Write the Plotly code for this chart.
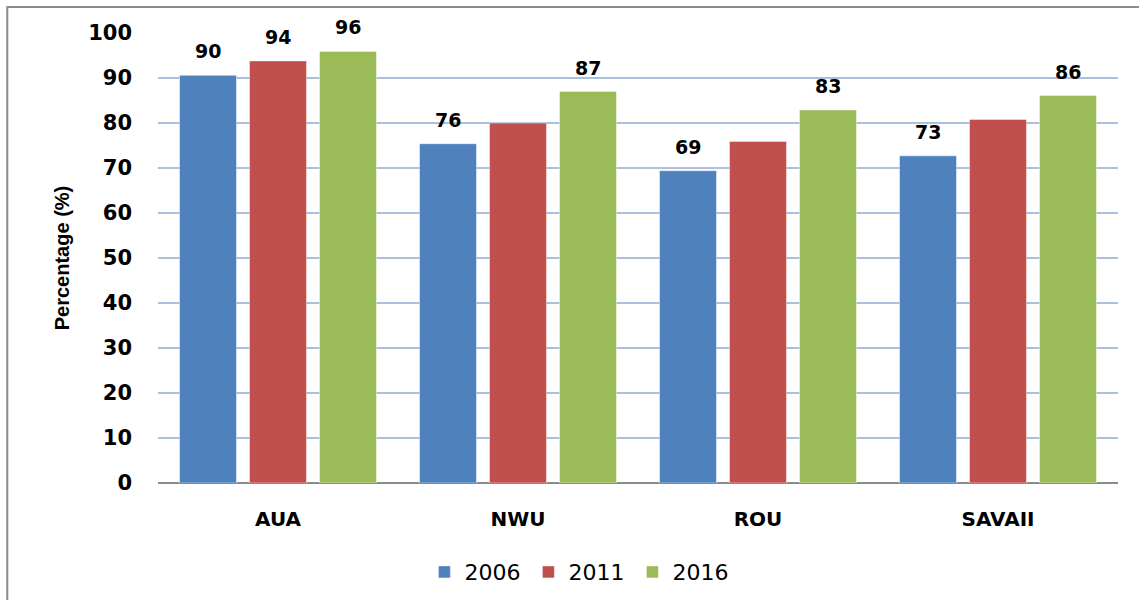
"""
지역별 연도 비율 막대 그래프
"""

import plotly.graph_objects as go

# 데이터
REGIONS = ['AUA', 'NWU', 'ROU', 'SAVAII']
YEARS = ['2006', '2011', '2016']

VALUES_2006 = [90.6, 75.4, 69.4, 72.7]
VALUES_2011 = [93.8, 80.0, 75.9, 80.8]
VALUES_2016 = [95.9, 87.0, 82.9, 86.1]

LABELS_2006 = ['90', '76', '69', '73']
LABELS_2011 = ['94', '', '', '']
LABELS_2016 = ['96', '87', '83', '86']

Y_TICKS = [0, 10, 20, 30, 40, 50, 60, 70, 80, 90, 100]

YEAR_COLORS = {
    '2006': '#4F81BD',  # 파랑
    '2011': '#C0504D',  # 빨강
    '2016': '#9BBB59',  # 초록
}

# 레이아웃 (픽셀)
FIG_W, FIG_H = 1139, 600
MARGIN = dict(l=158, r=21, t=33, b=117, autoexpand=False)
BARGAP = 0.125
BARGROUPGAP = 0.186


def create_region_chart() -> go.Figure:
    series = {
        '2006': (VALUES_2006, LABELS_2006),
        '2011': (VALUES_2011, LABELS_2011),
        '2016': (VALUES_2016, LABELS_2016),
    }

    fig = go.Figure()

    plot_w = FIG_W - MARGIN['l'] - MARGIN['r']
    slot_px = plot_w / len(REGIONS) * (1 - BARGAP) / len(YEARS)

    for i, year in enumerate(YEARS):
        vals, labels = series[year]
        fig.add_trace(go.Bar(
            x=REGIONS,
            y=vals,
            name=year,
            marker=dict(
                color=YEAR_COLORS[year],
                line=dict(color='rgba(255,255,255,0.45)', width=1)
            )
        ))
        # 값 라벨
        for region, v, lab in zip(REGIONS, vals, labels):
            if not lab:
                continue
            fig.add_annotation(
                x=region, y=v, xref='x', yref='y',
                text=lab, showarrow=False,
                xshift=(i - 1) * slot_px, yshift=11,
                yanchor='bottom',
                font=dict(family='DejaVu Sans', size=19, color='black', weight='bold')
            )

    # 바깥 테두리
    fig.add_shape(
        type='rect', xref='paper', yref='paper',
        x0=-0.157, x1=1.2, y0=-0.4, y1=1.058,
        line=dict(color='#8C8C8C', width=2),
        fillcolor='rgba(0,0,0,0)', layer='below'
    )

    fig.update_layout(
        width=FIG_W,
        height=FIG_H,
        paper_bgcolor='white',
        plot_bgcolor='white',
        font=dict(family='DejaVu Sans', color='black'),
        barmode='group',
        bargap=BARGAP,
        bargroupgap=BARGROUPGAP,
        showlegend=True,
        margin=MARGIN,
        legend=dict(
            orientation='h',
            xanchor='center',
            x=0.44,
            yanchor='middle',
            y=-0.198,
            entrywidth=59,
            font=dict(size=22, family='DejaVu Sans'),
            traceorder='normal'
        ),
        xaxis=dict(
            tickfont=dict(size=20, family='DejaVu Sans', weight='bold'),
            ticklabelstandoff=22,
            showgrid=False,
            ticks='',
            showline=False
        ),
        yaxis=dict(
            range=[0, 100],
            tickvals=Y_TICKS,
            tickfont=dict(size=21, family='DejaVu Sans', weight='bold'),
            ticklabelstandoff=25,
            showgrid=True,
            gridcolor='#A9C0DE',
            gridwidth=2,
            zeroline=True,
            zerolinecolor='#8C8C8C',
            zerolinewidth=2,
            title=dict(
                text='Percentage (%)',
                font=dict(size=20, family='Liberation Sans', weight='bold'),
                standoff=13
            )
        )
    )

    return fig


fig = create_region_chart()
fig.write_html(
    'out.html',
    config={'displayModeBar': False},
    post_script="document.body.style.margin='0';"
)
